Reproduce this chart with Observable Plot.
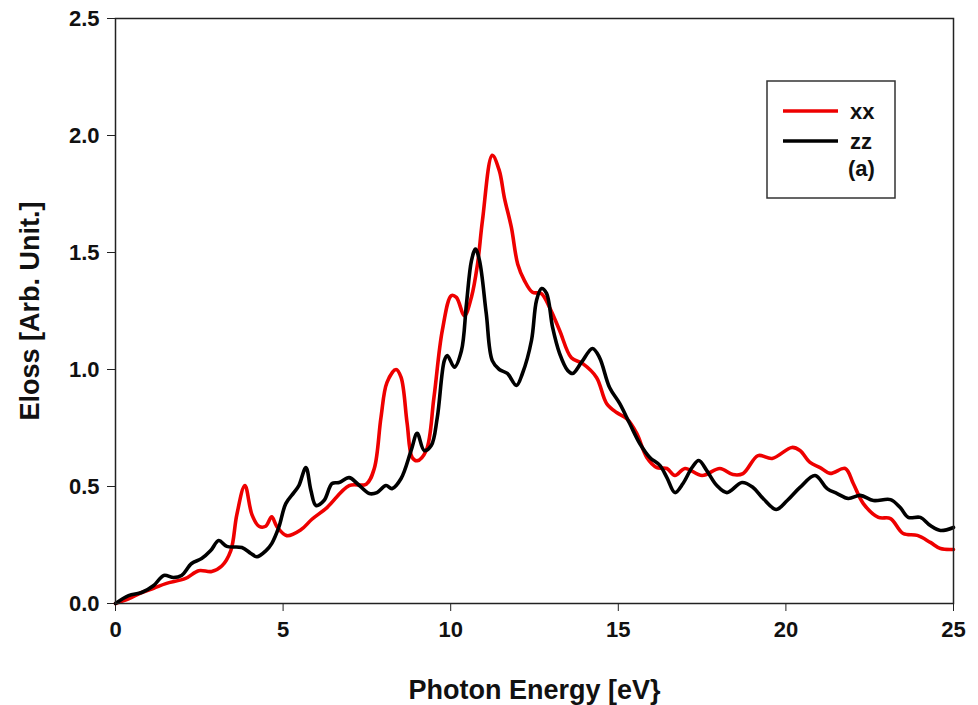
<!DOCTYPE html>
<html>
<head>
<meta charset="utf-8">
<script src="https://cdn.jsdelivr.net/npm/d3@7"></script>
<script src="https://cdn.jsdelivr.net/npm/@observablehq/plot@0.6"></script>
<style>
  html, body { margin: 0; padding: 0; background: #fff; }
  #wrap { position: relative; width: 978px; height: 705px; font-family: "Liberation Sans", Arial, sans-serif; }
  #legend { position: absolute; left: 0; top: 0; }
</style>
</head>
<body>
<div id="wrap"></div>
<script>
// Photon energy (eV) and Eloss values
const xxEnergy = [0, 0.39, 0.78, 1.14, 1.5, 2.09, 2.48, 2.87, 3.17, 3.44, 3.62, 3.86, 4.07, 4.28, 4.48, 4.66, 4.81, 5.11, 5.53, 5.86, 6.31, 6.97, 7.48, 7.72, 7.92, 8.1, 8.37, 8.52, 8.7, 8.85, 9.0, 9.27, 9.5, 9.75, 10.02, 10.17, 10.41, 10.62, 10.8, 10.95, 11.24, 11.45, 11.6, 11.81, 12.0, 12.2, 12.44, 12.7, 12.95, 13.25, 13.6, 13.94, 14.35, 14.65, 14.95, 15.25, 15.55, 15.85, 16.15, 16.45, 16.69, 16.99, 17.5, 18.03, 18.42, 18.72, 19.17, 19.59, 20.18, 20.42, 20.72, 21.02, 21.32, 21.77, 22.01, 22.31, 22.76, 23.12, 23.5, 23.92, 24.31, 24.61, 25];
const xxEloss = [0, 0.02, 0.047, 0.065, 0.085, 0.107, 0.14, 0.137, 0.16, 0.226, 0.38, 0.504, 0.38, 0.33, 0.33, 0.37, 0.33, 0.29, 0.315, 0.36, 0.41, 0.504, 0.51, 0.577, 0.795, 0.945, 1.0, 0.966, 0.77, 0.624, 0.61, 0.654, 0.88, 1.167, 1.316, 1.308, 1.23, 1.31, 1.45, 1.64, 1.915, 1.85, 1.735, 1.607, 1.45, 1.38, 1.33, 1.325, 1.265, 1.167, 1.05, 1.025, 0.966, 0.855, 0.816, 0.79, 0.727, 0.624, 0.581, 0.577, 0.547, 0.577, 0.547, 0.577, 0.551, 0.555, 0.632, 0.62, 0.667, 0.654, 0.603, 0.581, 0.556, 0.577, 0.513, 0.427, 0.368, 0.363, 0.299, 0.291, 0.261, 0.235, 0.231];

const zzEnergy = [0, 0.39, 0.78, 1.14, 1.44, 1.73, 1.97, 2.27, 2.57, 2.84, 3.08, 3.32, 3.77, 4.04, 4.22, 4.49, 4.66, 4.87, 5.08, 5.32, 5.47, 5.68, 5.83, 5.98, 6.22, 6.46, 6.67, 6.97, 7.21, 7.57, 7.8, 8.07, 8.25, 8.52, 8.82, 9.0, 9.21, 9.42, 9.6, 9.81, 9.9, 10.11, 10.32, 10.47, 10.62, 10.74, 10.86, 11.06, 11.24, 11.45, 11.69, 11.96, 12.14, 12.41, 12.56, 12.71, 12.86, 13.04, 13.25, 13.49, 13.64, 13.9, 14.23, 14.44, 14.74, 15.04, 15.34, 15.64, 15.94, 16.24, 16.45, 16.69, 16.93, 17.2, 17.4, 17.64, 17.94, 18.24, 18.69, 19.02, 19.32, 19.71, 20.04, 20.42, 20.87, 21.23, 21.53, 21.86, 22.22, 22.61, 23.12, 23.41, 23.65, 24.01, 24.31, 24.61, 25];
const zzEloss = [0, 0.034, 0.047, 0.077, 0.12, 0.111, 0.12, 0.171, 0.192, 0.226, 0.269, 0.244, 0.239, 0.214, 0.2, 0.226, 0.256, 0.325, 0.427, 0.474, 0.504, 0.581, 0.483, 0.419, 0.44, 0.513, 0.517, 0.538, 0.513, 0.47, 0.474, 0.504, 0.491, 0.534, 0.654, 0.727, 0.654, 0.675, 0.795, 1.038, 1.06, 1.01, 1.08, 1.28, 1.465, 1.515, 1.465, 1.24, 1.038, 1.0, 0.983, 0.932, 0.983, 1.124, 1.295, 1.346, 1.325, 1.18, 1.068, 0.996, 0.983, 1.03, 1.09, 1.051, 0.923, 0.855, 0.769, 0.684, 0.624, 0.59, 0.538, 0.474, 0.513, 0.581, 0.611, 0.568, 0.504, 0.474, 0.517, 0.496, 0.449, 0.402, 0.44, 0.496, 0.547, 0.491, 0.47, 0.449, 0.462, 0.44, 0.444, 0.41, 0.368, 0.368, 0.333, 0.312, 0.325];

const seriesNames = ["xx", "zz"];
const seriesColors = ["#ee0000", "#000000"];
const xTicks = [0, 5, 10, 15, 20, 25];
const yTicks = [0, 0.5, 1.0, 1.5, 2.0, 2.5];
const xTitle = "Photon Energy [eV}";
const yTitle = "Eloss [Arb. Unit.]";
const legendNote = "(a)";

const rows = [
  ...xxEnergy.map((e, i) => ({series: "xx", energy: e, eloss: xxEloss[i]})),
  ...zzEnergy.map((e, i) => ({series: "zz", energy: e, eloss: zzEloss[i]}))
];

const font = "'Liberation Sans', Arial, sans-serif";

const chart = Plot.plot({
  width: 978,
  height: 705,
  marginLeft: 115,
  marginRight: 25,
  marginTop: 18,
  marginBottom: 102,
  style: {fontFamily: font, fontWeight: "bold", fontSize: "22px", color: "#111", background: "#fff"},
  x: {domain: [0, 25], ticks: xTicks},
  y: {domain: [0, 2.5], ticks: yTicks},
  color: {domain: seriesNames, range: seriesColors},
  marks: [
    Plot.axisX({ticks: xTicks, tickSize: 8, tickPadding: 10, tickFormat: d3.format("d"),
      label: null, fontSize: 22, stroke: "#222"}),
    Plot.axisY({ticks: yTicks, tickSize: 8, tickPadding: 8, tickFormat: d3.format(".1f"),
      label: null, fontSize: 22, stroke: "#222"}),
    Plot.text([xTitle], {frameAnchor: "bottom", dy: 87, text: d => d, fontSize: 27,
      fontWeight: "bold", fill: "#111", lineAnchor: "middle", textAnchor: "middle"}),
    Plot.text([yTitle], {frameAnchor: "left", dx: -85, rotate: -90, text: d => d, fontSize: 27,
      fontWeight: "bold", fill: "#111", lineAnchor: "middle", textAnchor: "middle"}),
    Plot.line(rows, {x: "energy", y: "eloss", z: "series", stroke: "series",
      strokeWidth: 3.6, curve: "catmull-rom", strokeLinejoin: "round", strokeLinecap: "round"}),
    Plot.frame({stroke: "#222", strokeWidth: 1.5})
  ]
});

document.getElementById("wrap").appendChild(chart);

// Legend box (overlay)
const leg = d3.select("#wrap").append("svg").attr("id", "legend")
  .attr("width", 978).attr("height", 705);
leg.append("rect").attr("x", 767).attr("y", 81).attr("width", 128).attr("height", 117)
  .attr("fill", "#fff").attr("stroke", "#333").attr("stroke-width", 1.5);
seriesNames.forEach((name, i) => {
  const yy = 111 + i * 30;
  leg.append("line").attr("x1", 783).attr("x2", 838).attr("y1", yy).attr("y2", yy)
    .attr("stroke", seriesColors[i]).attr("stroke-width", 3.6);
  leg.append("text").attr("x", 850).attr("y", yy + 8).text(name)
    .attr("font-family", font).attr("font-weight", "bold").attr("font-size", 22).attr("fill", "#111");
});
leg.append("text").attr("x", 848).attr("y", 176).text(legendNote)
  .attr("font-family", font).attr("font-weight", "bold").attr("font-size", 22).attr("fill", "#111");
</script>
</body>
</html>
